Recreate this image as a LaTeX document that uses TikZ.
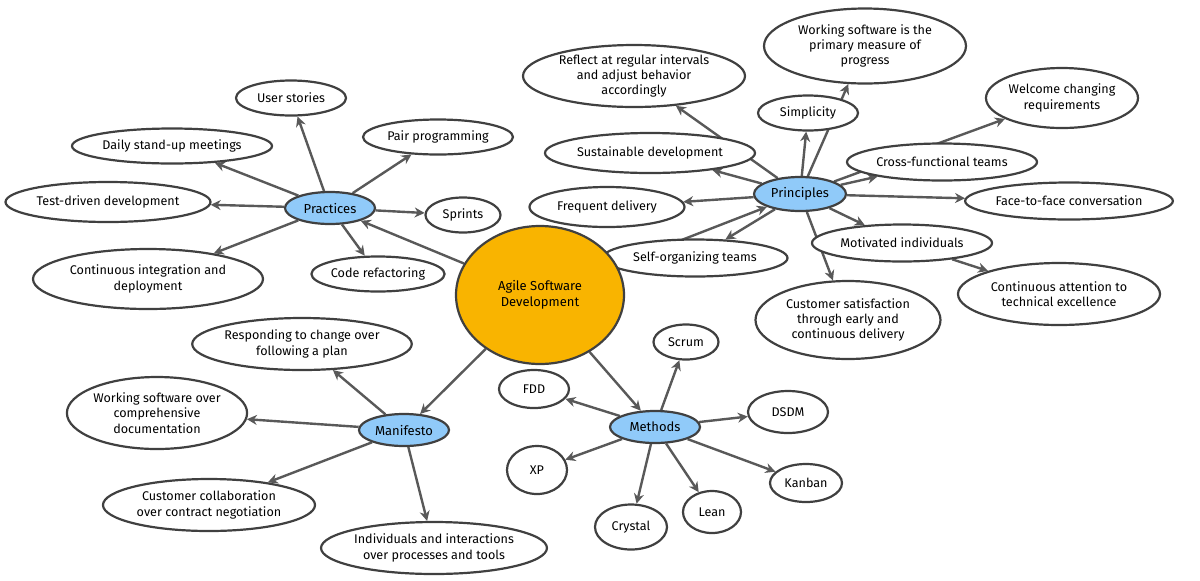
\documentclass[tikz,border=0pt]{standalone}
\usepackage{fontspec}
\setmainfont{Fira Sans}
\usetikzlibrary{shapes.geometric,arrows.meta,backgrounds}
\begin{document}
\begin{tikzpicture}[x=0.5pt,y=-0.5pt,
  sz/.style 2 args={minimum width=#1*0.5pt,minimum height=#2*0.5pt},
  leaf/.style={ellipse,draw=black!75,line width=1.1pt,fill=white,align=center,inner sep=0pt,font=\fontsize{6.3}{7.6}\selectfont},
  hub/.style={ellipse,draw=black!75,line width=1.1pt,fill=hubc,align=center,inner sep=0pt,font=\fontsize{6.5}{8}\selectfont},
  conn/.style={draw=black!65,line width=1.2pt,-{Stealth[length=5pt,width=5pt]}}]
\definecolor{hubc}{HTML}{90CAF9}
\definecolor{ctr}{HTML}{F9B400}
\useasboundingbox (0,0) rectangle (1200,580);
% leaves
\node[leaf,sz={110}{35}] (us) at (291,98) {User stories};
\node[leaf,sz={200}{35}] (ds) at (172,146) {Daily stand-up meetings};
\node[leaf,sz={150}{35}] (pp) at (438,137) {Pair programming};
\node[leaf,sz={205}{40}] (td) at (108,202) {Test-driven development};
\node[leaf,sz={75}{35}] (sp) at (463,215) {Sprints};
\node[leaf,sz={230}{60}] (ci) at (148,279) {Continuous integration and\\deployment};
\node[leaf,sz={120}{35}] (cr) at (378,274) {Code refactoring};
\node[leaf,sz={222}{62}] (rf) at (634,76) {Reflect at regular intervals\\and adjust behavior\\accordingly};
\node[leaf,sz={202}{75}] (ws) at (865,46) {Working software is the\\primary measure of\\progress};
\node[leaf,sz={100}{35}] (si) at (808,113) {Simplicity};
\node[leaf,sz={152}{60}] (wc) at (1062,98) {Welcome changing\\requirements};
\node[leaf,sz={210}{40}] (sd) at (650,153) {Sustainable development};
\node[leaf,sz={190}{37}] (cf) at (942,162) {Cross-functional teams};
\node[leaf,sz={155}{40}] (fd) at (607,207) {Frequent delivery};
\node[leaf,sz={180}{37}] (ff) at (1069,201) {Face-to-face conversation};
\node[leaf,sz={185}{37}] (so) at (695,258) {Self-organizing teams};
\node[leaf,sz={180}{37}] (mi) at (902,243) {Motivated individuals};
\node[leaf,sz={202}{62}] (ca) at (1059,294) {Continuous attention to\\technical excellence};
\node[leaf,sz={185}{78}] (cs) at (848,320) {Customer satisfaction\\through early and\\continuous delivery};
\node[leaf,sz={205}{52}] (rc) at (302,344) {Responding to change over\\following a plan};
\node[leaf,sz={168}{72}] (wsd) at (157,413) {Working software over\\comprehensive\\documentation};
\node[leaf,sz={212}{52}] (cc) at (209,505) {Customer collaboration\\over contract negotiation};
\node[leaf,sz={202}{52}] (ii) at (434,548) {Individuals and interactions\\over processes and tools};
\node[leaf,sz={65}{35}] (sc) at (686,342) {Scrum};
\node[leaf,sz={70}{38}] (fdd) at (534,389) {FDD};
\node[leaf,sz={80}{42}] (dsdm) at (788,412) {DSDM};
\node[leaf,sz={60}{48}] (xp) at (537,470) {XP};
\node[leaf,sz={72}{38}] (kb) at (806,483) {Kanban};
\node[leaf,sz={58}{42}] (ln) at (712,512) {Lean};
\node[leaf,sz={72}{45}] (cy) at (631,527) {Crystal};
% hubs
\node[hub,sz={90}{32}] (pr) at (330,208) {Practices};
\node[hub,sz={92}{34}] (pi) at (800,194) {Principles};
\node[hub,sz={90}{32}] (mf) at (404,430) {Manifesto};
\node[hub,sz={90}{32}] (me) at (655,427) {Methods};
\node[ellipse,draw=black!75,line width=1.1pt,fill=ctr,sz={168}{138},align=center,inner sep=0pt,font=\fontsize{6.5}{8}\selectfont] (c) at (540,295) {Agile Software\\Development};
% connectors
\begin{scope}[on background layer]
\draw[conn] (c) -- (pr);
\draw[conn] (c) -- (pi);
\draw[conn] (c) -- (mf);
\draw[conn] (c) -- (me);
\foreach \t in {us,ds,pp,td,sp,ci,cr} \draw[conn] (pr) -- (\t);
\foreach \t in {rf,ws,si,wc,sd,cf,fd,ff,so,mi,cs} \draw[conn] (pi) -- (\t);
\draw[conn] (mi) -- (ca);
\foreach \t in {rc,wsd,cc,ii} \draw[conn] (mf) -- (\t);
\foreach \t in {sc,fdd,dsdm,xp,kb,ln,cy} \draw[conn] (me) -- (\t);
\end{scope}
\end{tikzpicture}
\end{document}
